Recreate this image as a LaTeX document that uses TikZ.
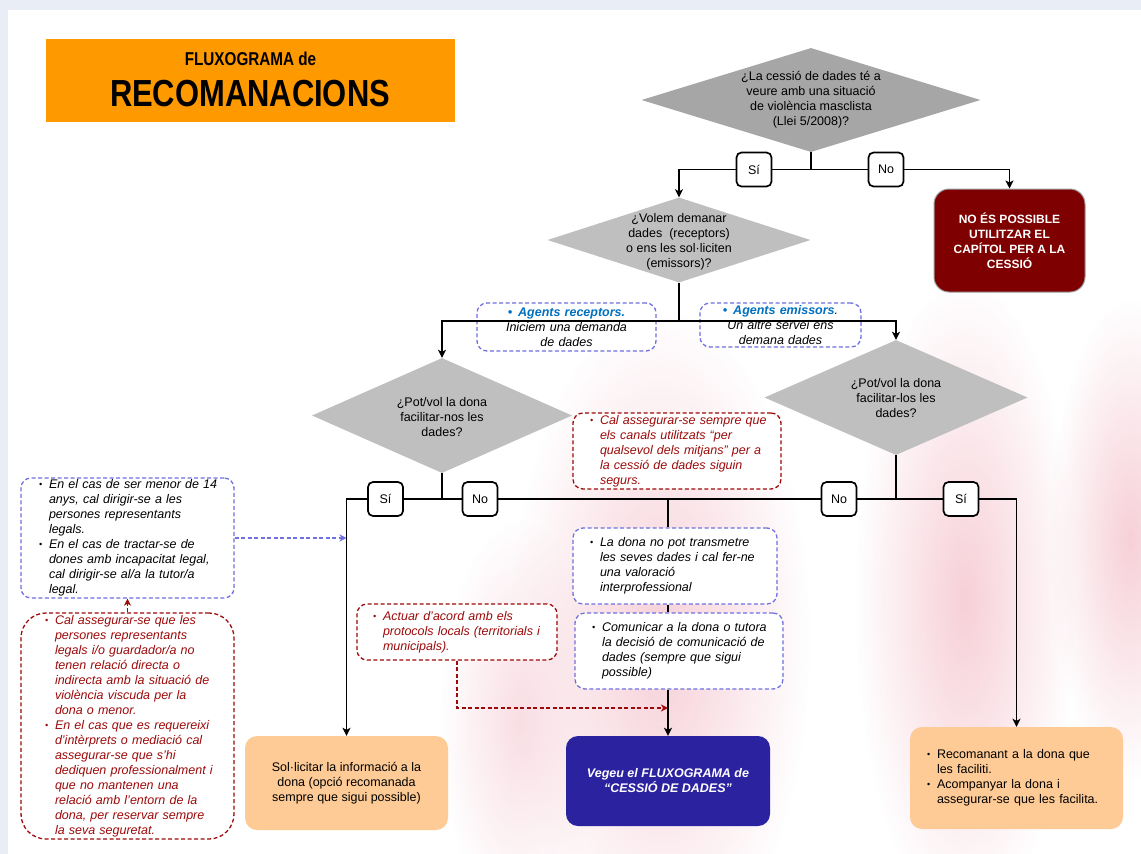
\documentclass[tikz,border=0pt]{standalone}
\usepackage{fontspec}
\setmainfont{Liberation Sans}
\newfontfamily\narrowfont[FakeStretch=0.82]{Liberation Sans}
\usetikzlibrary{shapes.geometric,arrows.meta,fadings}
\definecolor{bgframe}{HTML}{E9EEF6}
\definecolor{titleorange}{HTML}{FF9900}
\definecolor{diadark}{HTML}{A6A6A6}
\definecolor{dialight}{HTML}{BFBFBF}
\definecolor{boxred}{HTML}{7F0000}
\definecolor{notered}{HTML}{9C0A0A}
\definecolor{noteblue}{HTML}{7070E0}
\definecolor{agentblue}{HTML}{0070C0}
\definecolor{peach}{HTML}{FECB96}
\definecolor{navy}{HTML}{2B22A0}
\definecolor{pinkbg}{HTML}{F7D0D8}
\tikzfading[name=softblob, inner color=transparent!0, outer color=transparent!100]
\newcommand{\bl}{\makebox[10pt][l]{\raisebox{0.8pt}{\fontsize{9}{9}\selectfont\textbullet}}}
\begin{document}
\begin{tikzpicture}[x=1pt,y=-1pt,
  every node/.style={font=\fontsize{12.5}{15}\selectfont},
  conn/.style={line width=1.9pt, draw=black},
  arr/.style={conn, -{Stealth[length=8pt,width=8pt,inset=2pt]}},
  bdarr/.style={line width=1.3pt, draw=noteblue, dash pattern=on 4pt off 2.5pt, -{Stealth[length=7pt,width=7pt,inset=2pt]}},
  rdarr/.style={line width=1.3pt, draw=notered, dash pattern=on 4pt off 2.5pt, -{Stealth[length=7pt,width=7pt,inset=2pt]}},
  dia/.style={diamond, inner sep=0pt, draw=none},
  dlab/.style={align=center, inner sep=0pt},
  lbl/.style={draw=black, line width=1.7pt, fill=white, rounded corners=5pt, minimum width=35pt, minimum height=34pt, inner sep=0pt},
  notebox/.style={rectangle, rounded corners=10pt, dash pattern=on 4pt off 2.5pt, line width=1.3pt, fill=white, align=left, inner ysep=0pt, font=\itshape\fontsize{12.5}{15}\selectfont},
  bnote/.style={notebox, draw=noteblue},
  rnote/.style={notebox, draw=notered, text=notered},
  endbox/.style={rectangle, rounded corners=12pt, inner sep=0pt, align=center},
]
\useasboundingbox (0,0) rectangle (1141,854);
\fill[bgframe] (0,0) rectangle (1141,854);
\fill[white] (8,10) rectangle (1141,854);
% faint background watermark
\fill[pinkbg, path fading=softblob] (660,640) ellipse [x radius=150, y radius=330];
\fill[pinkbg, path fading=softblob] (965,600) ellipse [x radius=110, y radius=320];
\fill[pinkbg, path fading=softblob] (1130,540) ellipse [x radius=80, y radius=240];
\fill[pinkbg!70, path fading=softblob] (520,720) ellipse [x radius=80, y radius=200];

% title
\node[fill=titleorange, minimum width=409pt, minimum height=83pt, inner sep=0pt] (title) at (250.5,80.5) {};
\node[font=\narrowfont\bfseries\fontsize{18.6}{20}\selectfont, inner sep=0pt] (t1) at (250.5,58.5) {FLUXOGRAMA de};
\node[font=\narrowfont\bfseries\fontsize{37.7}{40}\selectfont, inner sep=0pt] (t2) at (250,93.5) {RECOMANACIONS};

% diamonds
\node[dia, fill=diadark, minimum width=339pt, minimum height=104pt] (d1) at (811,100) {};
\node[dlab] (d1t) at (d1.center) {¿La cessió de dades té a\\veure amb una situació\\de violència masclista\\(Llei 5/2008)?};
\node[dia, fill=dialight, minimum width=263pt, minimum height=85pt] (d2) at (679,240) {};
\node[dlab] (d2t) at (679,241.5) {¿Volem demanar\\dades\ \ (receptors)\\o ens les sol·liciten\\(emissors)?};
\node[dia, fill=dialight, minimum width=260pt, minimum height=115pt] (d3) at (442,415.5) {};
\node[dlab] (d3t) at (442,417) {¿Pot/vol la dona\\facilitar-nos les\\dades?};
\node[dia, fill=dialight, minimum width=263pt, minimum height=115pt] (d4) at (896,397.5) {};
\node[dlab] (d4t) at (896,398.5) {¿Pot/vol la dona\\facilitar-los les\\dades?};

% Si / No labels
\node[lbl] (s1) at (754,169.5) {Sí};
\node[lbl] (n1) at (886,169.5) {No};
\node[lbl] (s3) at (385.5,499) {Sí};
\node[lbl] (n3) at (480,499) {No};
\node[lbl] (n4) at (839,499) {No};
\node[lbl] (s4) at (961,499) {Sí};

% end boxes
\node[endbox, fill=boxred, draw=gray!75, line width=1pt, rounded corners=15pt, minimum width=151pt, minimum height=103pt, text=white, font=\bfseries\fontsize{12}{15}\selectfont] (r1) at (1009.5,240.5) {NO ÉS POSSIBLE\\UTILITZAR EL\\CAPÍTOL PER A LA\\CESSIÓ};
\node[endbox, fill=peach, minimum width=203pt, minimum height=94pt] (sol) at (346.5,783) {Sol·licitar la informació a la\\dona (opció recomanada\\sempre que sigui possible)};
\node[endbox, fill=navy, text=white, font=\bfseries\itshape\fontsize{12.5}{15}\selectfont, minimum width=204pt, minimum height=90pt] (cessio) at (668,781) {Vegeu el FLUXOGRAMA de\\“CESSIÓ DE DADES”};
\node[endbox, fill=peach, text width=179pt, inner xsep=17pt, align=left, minimum height=102pt] (recom) at (1016.5,778) {\begin{tabular}{@{}l@{}l@{}}\bl&Recomanant a la dona que\\&les faciliti.\\\bl&Acompanyar la dona i\\&assegurar-se que les facilita.\end{tabular}};

% agents
\node[bnote, align=center, text width=175pt, inner xsep=2pt, minimum height=48pt] (recv) at (566.5,327) {{\color{agentblue}\bfseries\textbullet\hspace{6pt}Agents receptors.}\\Iniciem una demanda\\de dades};
\node[bnote, align=center, text width=157pt, inner xsep=2pt, minimum height=44pt] (emis) at (780.5,325) {{\color{agentblue}\bfseries\textbullet\hspace{6pt}Agents emissors}.\\Un altre servei ens\\demana dades};

% notes
\node[rnote, text width=174pt, inner xsep=17pt, minimum height=76pt] (caution) at (677,451) {\begin{tabular}{@{}l@{}l@{}}\bl&Cal assegurar-se sempre que\\&els canals utilitzats “per\\&qualsevol dels mitjans” per a\\&la cessió de dades siguin\\&segurs.\end{tabular}};
\node[bnote, text width=170pt, inner xsep=17pt, minimum height=76pt] (ladona) at (675,566) {\begin{tabular}{@{}l@{}l@{}}\bl&La dona no pot transmetre\\&les seves dades i cal fer-ne\\&una valoració\\&interprofessional\end{tabular}};
\node[bnote, text width=174pt, inner xsep=17pt, minimum height=76pt] (comun) at (679,651) {\begin{tabular}{@{}l@{}l@{}}\bl&Comunicar a la dona o tutora\\&la decisió de comunicació de\\&dades (sempre que sigui\\&possible)\end{tabular}};
\node[rnote, text width=168pt, inner xsep=16pt, minimum height=56pt] (actuar) at (457,632) {\begin{tabular}{@{}l@{}l@{}}\bl&Actuar d’acord amb els\\&protocols locals (territorials i\\&municipals).\end{tabular}};
\node[bnote, text width=177pt, inner xsep=18pt, minimum height=114pt] (leftblue) at (127.5,538) {\begin{tabular}{@{}l@{}l@{}}\bl&En el cas de ser menor de 14\\&anys, cal dirigir-se a les\\&persones representants\\&legals.\\\bl&En el cas de tractar-se de\\&dones amb incapacitat legal,\\&cal dirigir-se al/a la tutor/a\\&legal.\end{tabular}};
\node[rnote, text width=165pt, inner xsep=24pt, minimum height=226pt, rounded corners=25pt] (leftred) at (127.5,726) {\begin{tabular}{@{}l@{}l@{}}\bl&Cal assegurar-se que les\\&persones representants\\&legals i/o guardador/a no\\&tenen relació directa o\\&indirecta amb la situació de\\&violència viscuda per la\\&dona o menor.\\\bl&En el cas que es requereixi\\&d’intèrprets o mediació cal\\&assegurar-se que s’hi\\&dediquen professionalment i\\&que no mantenen una\\&relació amb l’entorn de la\\&dona, per reservar sempre\\&la seva seguretat.\end{tabular}};

% connectors
\coordinate (j2) at (679,321);
\coordinate (m1) at (668,708);
\draw[conn] (d1.south) |- (s1.east);
\draw[conn] (d1.south) |- (n1.west);
\draw[arr] (s1.west) -| (d2.north);
\draw[arr] (n1.east) -| (r1.north);
\draw[conn] (d2.south) -- (j2);
\draw[arr] (j2) -| (d3.north);
\draw[arr] (j2) -| (d4.north);
\draw[conn] (d3.south) |- (s3.east);
\draw[conn] (d3.south) |- (n3.west);
\draw[arr] (s3.west) -| (sol.north);
\draw[conn] (n3.east) -| (ladona.north -| cessio.north);
\draw[conn] (d4.south) |- (n4.east);
\draw[conn] (d4.south) |- (s4.west);
\draw[conn] (n4.west) -- (n4.west -| cessio.north);
\draw[arr] (s4.east) -| (recom.north);
\draw[conn] (ladona.south -| cessio.north) -- (comun.north -| cessio.north);
\draw[arr] (comun.south -| cessio.north) -- (cessio.north);
\draw[bdarr] (leftblue.east) -- (leftblue.east -| sol.north);
\draw[rdarr] (leftred.north) -- (leftblue.south);
\draw[rdarr] (actuar.south) |- (m1);
\end{tikzpicture}
\end{document}
